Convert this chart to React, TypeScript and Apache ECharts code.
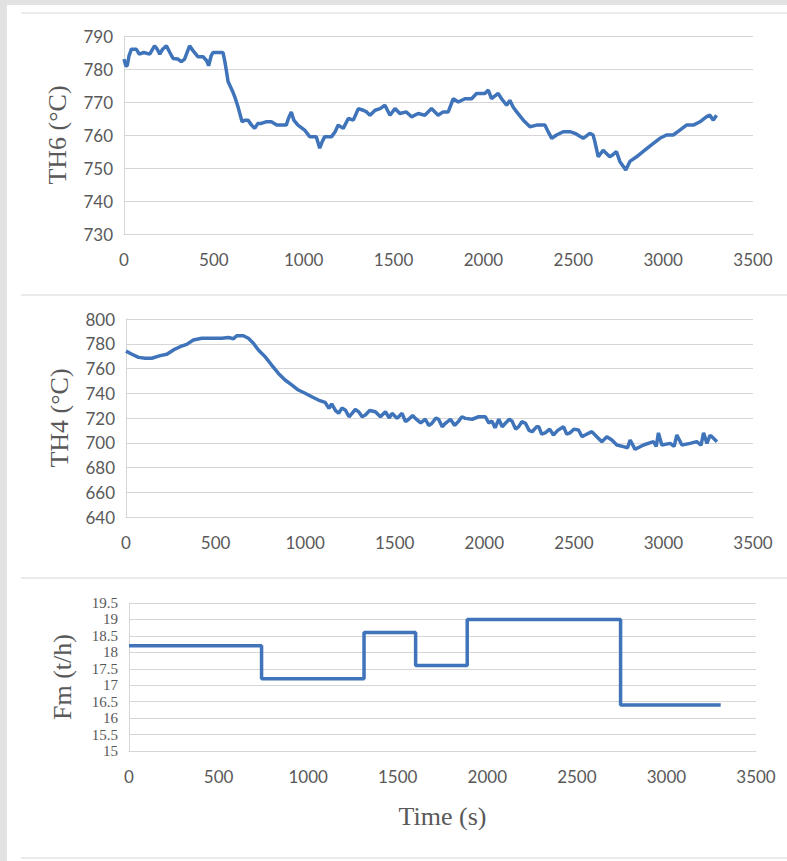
import React, { useEffect, useRef } from "react";
import * as echarts from "echarts";

// ---- Data (time in s) ----
const TH6_TIME = [
  0, 10, 18, 28, 41, 68, 85, 110, 143, 170, 185, 199, 215, 236, 255, 273, 300, 319, 337, 365,
  385, 412, 440, 460, 471, 485, 495, 551, 562, 569, 579, 606, 620, 634, 657, 675, 690, 710, 727, 745,
  764, 790, 820, 850, 875, 903, 915, 931, 945, 968, 1005, 1033, 1070, 1089, 1103, 1117, 1140, 1155, 1175, 1192,
  1220, 1248, 1276, 1304, 1331, 1350, 1369, 1397, 1425, 1452, 1480, 1508, 1535, 1571, 1600, 1637, 1674, 1711, 1748, 1776,
  1804, 1818, 1832, 1860, 1897, 1934, 1962, 2008, 2027, 2045, 2082, 2101, 2129, 2147, 2165, 2185, 2222, 2259, 2296, 2342,
  2360, 2380, 2407, 2444, 2481, 2509, 2555, 2592, 2610, 2620, 2639, 2666, 2703, 2720, 2740, 2759, 2792, 2815, 2852, 2898,
  2935, 2982, 3019, 3056, 3093, 3130, 3168, 3205, 3242, 3260, 3279, 3297,
];
const TH6_VALUE = [
  783, 781, 781, 784, 786, 786, 784.5, 785, 784.5, 787, 786, 784.5, 786, 787, 785, 783.2, 783, 782.2, 783, 787,
  785.5, 783.7, 783.7, 782.5, 781, 784, 785, 785, 782, 779.7, 776.2, 773, 771, 768.6, 764, 764.5, 764.5, 763, 762, 763.5,
  763.5, 764, 764, 763, 763, 763, 765, 767, 764.5, 763, 761.5, 759.5, 759.5, 756, 758, 759.5, 759.5, 759.5, 761, 763,
  762, 765, 764.5, 768, 767.5, 767, 766, 767.5, 768, 769, 766, 768, 766.5, 767, 765.5, 766.5, 766, 768, 766, 767,
  767, 769, 771, 770, 771, 771, 772.6, 772.6, 773.6, 771, 772.6, 771, 769, 770.5, 768.5, 767, 764.5, 762.5, 763, 763,
  761, 759, 760, 761, 761, 760.5, 759, 760.5, 760, 758, 753.4, 755.4, 753.4, 754, 755, 752, 749.4, 752, 753.4, 755.4,
  757, 759, 760, 760, 761.5, 763, 763, 764, 765.6, 766, 764.5, 766,
];

const TH4_TIME = [
  0, 33, 70, 107, 144, 191, 228, 265, 302, 339, 376, 423, 479, 535, 572, 600, 618, 655, 683, 711,
  739, 776, 813, 851, 888, 925, 962, 1000, 1037, 1074, 1111, 1133, 1148, 1170, 1187, 1205, 1224, 1245, 1262, 1280,
  1299, 1318, 1336, 1360, 1392, 1420, 1448, 1470, 1485, 1513, 1541, 1560, 1578, 1600, 1615, 1645, 1671, 1690, 1708, 1730,
  1745, 1765, 1783, 1811, 1835, 1857, 1875, 1894, 1932, 1969, 2006, 2025, 2043, 2060, 2081, 2100, 2118, 2140, 2155, 2175,
  2192, 2210, 2230, 2250, 2267, 2293, 2304, 2320, 2340, 2365, 2386, 2410, 2442, 2460, 2479, 2500, 2526, 2545, 2563, 2600,
  2628, 2656, 2684, 2712, 2740, 2777, 2800, 2814, 2842, 2889, 2944, 2960, 2972, 2991, 3038, 3060, 3075, 3103, 3149, 3186,
  3210, 3224, 3243, 3260, 3271, 3299,
];
const TH4_VALUE = [
  774, 771.5, 769, 768.3, 768.3, 770.4, 771.5, 775, 777.6, 779.5, 783, 784.4, 784.4, 784.4, 785, 784, 786.5, 786.5, 784.4, 780.4,
  775, 769.6, 762.8, 756, 750.7, 746.7, 742.6, 740, 737.2, 734.5, 732.7, 727.8, 731.5, 726, 723.8, 728, 726.5, 721, 723.8, 727,
  725, 721, 722.4, 726, 725, 721, 725, 720, 723.8, 719.7, 723.8, 717, 719, 722, 719.7, 716, 719, 714, 715.7, 720,
  719, 713, 715.7, 719, 714, 717.5, 721, 719.7, 719, 721, 721, 716, 717.5, 712, 719, 713, 715.7, 719, 717.5, 711,
  713, 717, 715.7, 710, 708.9, 713, 713, 707, 708, 711, 706.3, 710, 713, 707, 708, 711, 710.3, 705, 706.3, 709,
  704.9, 700.9, 704.9, 702.2, 698.2, 696.9, 696, 702.2, 694.7, 698.2, 700.9, 697, 708, 698.2, 699.5, 697, 706.3, 698.2, 699.5, 700.9,
  698, 708, 699.5, 706, 704.9, 700.9,
];

const FM_TIME = [0, 740, 1312, 1600, 1888, 2744, 3303];
const FM_VALUE = [18.2, 17.2, 18.6, 17.6, 19.0, 16.4, 16.4];

const X_MIN = 0;
const X_MAX = 3500;
const X_STEP = 500;

const pairs = (t: number[], v: number[]) => t.map((x, i) => [x, v[i]]);

const GRID_COLOR = "#d6d6d6";
const TEXT_COLOR = "#595959";
const LINE_COLOR = "#3f74ba";
const SANS = "Lato";
const SERIF = "Liberation Serif";

export default function App() {
  const ref = useRef<HTMLDivElement>(null);

  useEffect(() => {
    document.body.style.margin = "0";
    const chart = echarts.init(ref.current!, null, { renderer: "svg" });

    const xAxis = (gridIndex: number, name?: string) => ({
      type: "value",
      gridIndex,
      min: X_MIN,
      max: X_MAX,
      interval: X_STEP,
      axisLine: { show: true, lineStyle: { color: GRID_COLOR, width: 1 } },
      axisTick: { show: false },
      splitLine: { show: false },
      axisLabel: {
        color: TEXT_COLOR,
        fontSize: 17,
        fontFamily: SANS,
        margin: 17,
        formatter: (v: number) => String(v),
      },
      name: name ?? "",
      nameLocation: "middle",
      nameGap: 52,
      nameTextStyle: { color: TEXT_COLOR, fontSize: 26, fontFamily: SERIF },
    });

    const yAxis = (
      gridIndex: number,
      min: number,
      max: number,
      interval: number,
      name: string,
      labelFont: string,
      labelSize: number
    ) => ({
      type: "value",
      gridIndex,
      min,
      max,
      interval,
      axisLine: { show: true, lineStyle: { color: GRID_COLOR, width: 1 } },
      axisTick: { show: false },
      splitLine: {
        show: true,
        showMinLine: true,
        showMaxLine: true,
        lineStyle: { color: GRID_COLOR, width: 1 },
      },
      axisLabel: {
        color: TEXT_COLOR,
        fontSize: labelSize,
        fontFamily: labelFont,
        margin: 11,
        showMinLabel: true,
        showMaxLabel: true,
        hideOverlap: false,
        lineHeight: labelSize,
        formatter: (v: number) => String(v),
      },
      name,
      nameLocation: "middle",
      nameRotate: 90,
      nameGap: 54,
      nameTextStyle: { color: TEXT_COLOR, fontSize: 26, fontFamily: SERIF },
    });

    const sepLine = (y: number) => ({
      type: "line",
      shape: { x1: 21, y1: y, x2: 787, y2: y },
      style: { stroke: "#ebebeb", lineWidth: 2 },
      silent: true,
    });

    chart.setOption({
      animation: false,
      backgroundColor: "#ffffff",
      graphic: [
        { type: "rect", shape: { x: 0, y: 0, width: 7, height: 861 }, style: { fill: "#e2e2e2" }, silent: true },
        { type: "rect", shape: { x: 0, y: 0, width: 787, height: 5 }, style: { fill: "#e2e2e2" }, silent: true },
        sepLine(13),
        sepLine(295),
        sepLine(578),
        sepLine(858),
      ],
      grid: [
        { left: 124, right: 34, top: 36, height: 198 },
        { left: 126, right: 34, top: 319, height: 198 },
        { left: 129, right: 31, top: 603, height: 148 },
      ],
      xAxis: [xAxis(0), xAxis(1), xAxis(2, "Time (s)")],
      yAxis: [
        yAxis(0, 730, 790, 10, "TH6 (°C)", SANS, 17),
        yAxis(1, 640, 800, 20, "TH4 (°C)", SANS, 17),
        yAxis(2, 15, 19.5, 0.5, "Fm (t/h)", SERIF, 15),
      ],
      series: [
        {
          type: "line",
          xAxisIndex: 0,
          yAxisIndex: 0,
          data: pairs(TH6_TIME, TH6_VALUE),
          showSymbol: false,
          lineStyle: { color: LINE_COLOR, width: 3.5 },
        },
        {
          type: "line",
          xAxisIndex: 1,
          yAxisIndex: 1,
          data: pairs(TH4_TIME, TH4_VALUE),
          showSymbol: false,
          lineStyle: { color: LINE_COLOR, width: 3.5 },
        },
        {
          type: "line",
          xAxisIndex: 2,
          yAxisIndex: 2,
          step: "end",
          data: pairs(FM_TIME, FM_VALUE),
          showSymbol: false,
          lineStyle: { color: LINE_COLOR, width: 3.5 },
        },
      ],
    });

    return () => chart.dispose();
  }, []);

  return <div ref={ref} style={{ width: 787, height: 861 }} />;
}
